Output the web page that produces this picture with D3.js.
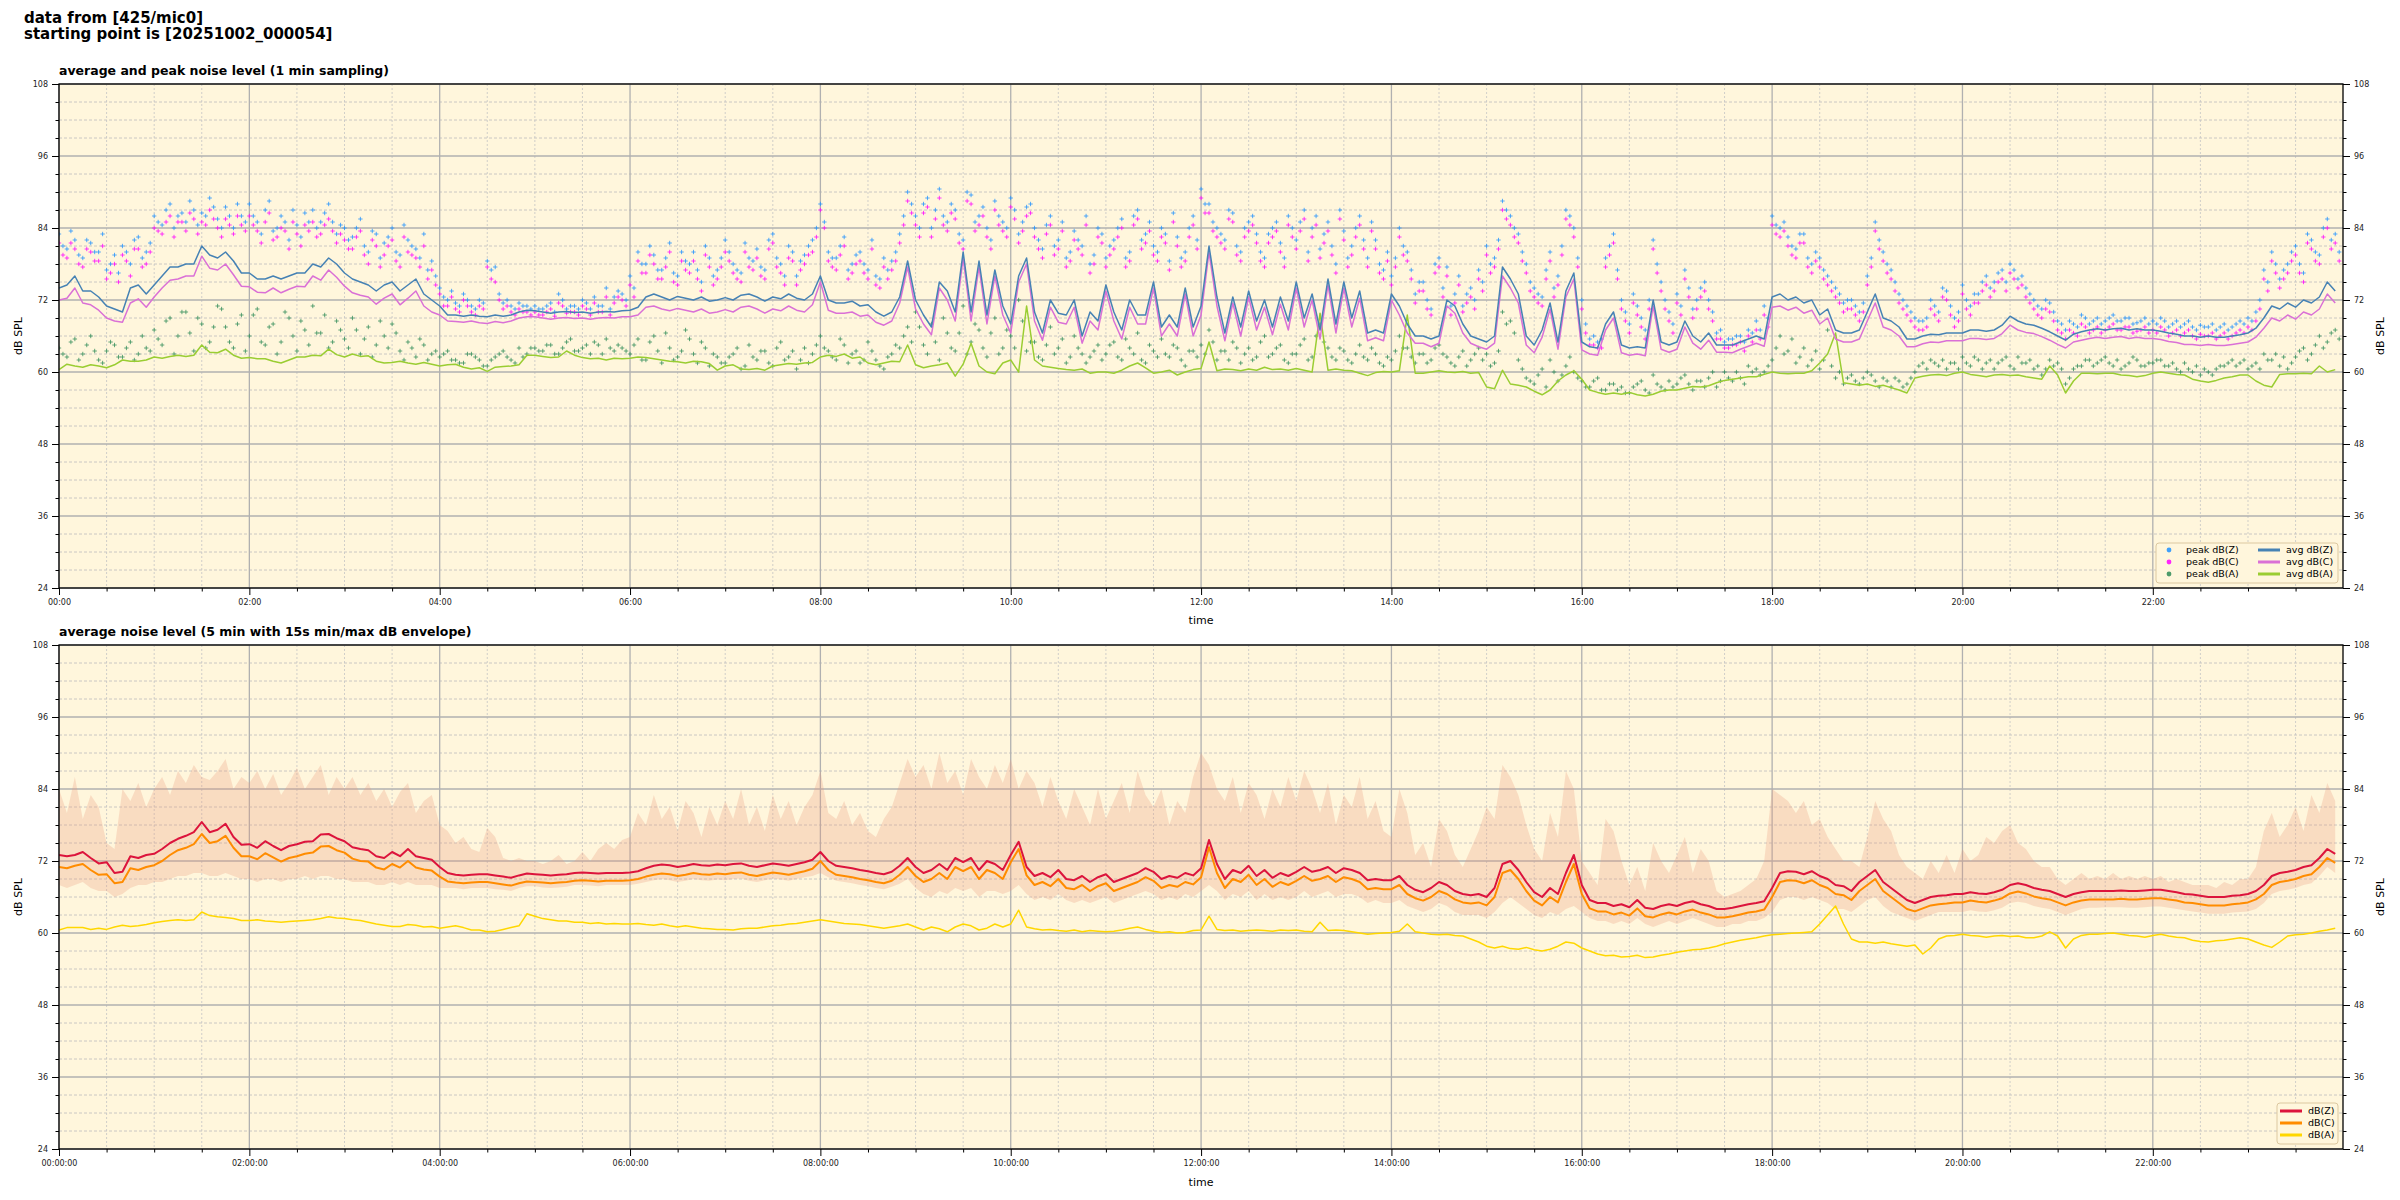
<!DOCTYPE html>
<html><head><meta charset="utf-8">
<script src="https://cdn.jsdelivr.net/npm/d3@7"></script>
<style>body{margin:0;background:#fff}svg{display:block}text{font-family:"DejaVu Sans",sans-serif}</style>
</head><body><svg id="c" width="2400" height="1200"></svg>
<script>
// ---- DATA (5-minute samples, 00:00 .. 23:55) ----
const sampleMinutes = d3.range(0, 1440, 5);
const majorTicksDb = [24, 36, 48, 60, 72, 84, 96, 108];

const avgZ = [
74,74.5,76,73.5,73.5,72.5,71,70.5,70,74,74.5,73,
74.5,76,77.5,77.5,78,78,81,79.5,79,80,78.5,76.5,
76.5,75.5,75.5,76,75.5,76,76.5,76.5,78,77.5,79,78,
76.5,75.5,75,74.5,73.5,74.5,75,73.5,74.5,75.5,73,72,
71,69.5,69.5,69.3,69.5,69.3,69.2,69.5,69.3,69.5,70,70.3,
70.2,70,69.8,70,70.1,69.9,70,69.8,70,70.1,70,70.2,
70.3,70.8,72.5,73,72.5,72,72.6,72.3,72,72.5,71.8,72,
72.4,72,72.8,73,72.5,71.8,72.5,72.2,73,72.3,72,73,
76,72,71.5,71.5,71.8,71,71.2,70,69.3,70,72.5,78.5,
72,69.5,67.5,75,73.5,70,80,70,78.5,69.5,77,71,
68,76,79,70,66.5,72,69.8,69.5,72,66,70,68.5,
74.5,70,67,72,69.5,69.5,75,67.5,69.5,67.5,74,67.5,
71,81,72.5,66.5,72.5,67.5,73.5,68.5,72,67.5,72.5,68.5,
75,69,73,67,75.5,68,75,69,73.5,66.5,67,66.5,
73,71,68,66,66,65.5,66,72,71,68,66,65.5,
65,66,77.5,75.5,73,66,64.5,67,71.5,65,73.5,76.5,
65,64.2,64,68,70,64.5,64,64.2,64,72,65,64.5,
65,68.5,66,65,66.5,64.5,64.5,64.5,65,65.5,66,65.5,
72.5,73,72,72.5,71.5,72,69.5,70.5,67,66.5,66.5,67,
70,73,69,68.5,67.5,65.5,65.5,66,66.3,66.2,66.5,66.5,
66.5,67,67,66.8,67,67.8,69.3,68.5,68,67.8,67.3,66.7,
66,65.3,66.3,66.7,67,67.2,67,67.2,67.3,67,67.2,67,
67,66.8,66.5,66.3,66,66,65.8,66,65.8,65.8,66,66.2,
66.5,67.3,69,71,70.5,71.5,70.8,72,71.5,72.5,75,73.5];

const avgC = [
72,72.3,74,71.5,71.2,70.3,69,68.5,68.3,71.5,72.2,70.8,
72.5,74,75.3,75.5,76,76,79.3,77.3,77,78,76.2,74.3,
74.2,73.3,73.2,74,73.2,73.8,74.3,74.2,76,75.3,77,75.8,
74.3,73.2,72.8,72.5,71.3,72.3,73,71.2,72.3,73.5,71,70,
69.5,68.5,68.4,68.3,68.5,68.2,68.1,68.4,68.2,68.5,69,69.2,
69.2,69,68.8,69,69.1,68.9,69,68.8,69,69.1,69,69.2,
69.2,69.5,70.8,71,70.5,70.2,70.6,70.3,70,70.5,69.8,70,
70.4,70,70.8,71,70.5,69.8,70.5,70.2,71,70.3,70,71.2,
75,70.3,69.8,69.8,70,69.3,69.5,68.3,67.8,68.5,71.5,77.5,
70.5,68,66.2,74,72,68.5,79,68.5,77.5,68,76,69.5,
66.5,75,78,68.5,65.3,70.8,68.3,68,70.8,64.8,68.5,67,
73.5,68.5,65.5,70.8,68,68,74,66,68,66,73,66,
69.5,80,71,65.2,71.5,66,72.5,67,70.8,66.2,71.3,67,
74,67.5,72,65.5,74.5,66.5,74,67.5,72.3,65.2,65.7,65.2,
72,69.5,66.5,64.8,64.8,64.2,64.8,71,69.8,66.5,64.8,64.2,
63.8,64.8,76,74,71.5,64.5,63.2,65.8,70.5,63.8,72.5,75.5,
63.7,63,62.8,67,69,63.2,62.8,63,62.7,71,63.8,63.3,
63.8,67.5,64.8,63.8,65.3,63.3,63.3,63.2,63.8,64.3,64.8,64.3,
70.8,71,70.3,70.8,69.8,70.3,68,69,65.5,65,65,65.5,
68.5,71.5,67.5,67,66,64.2,64.2,64.7,65,64.9,65.2,65.2,
65.2,65.6,65.6,65.4,65.6,66.4,67.8,67,66.6,66.4,65.9,65.3,
64.6,64,65,65.3,65.6,65.8,65.6,65.8,65.9,65.6,65.8,65.6,
65.6,65.4,65.1,64.9,64.6,64.6,64.4,64.6,64.4,64.4,64.6,64.8,
65,65.8,67.3,69,68.5,69.5,68.8,70,69.5,70.5,73,71.5];

const avgA = [
60.4,61.3,61,60.8,61.2,61,60.7,61.2,62,61.8,61.8,62,
62.5,62.3,62.6,62.8,62.6,62.8,64.5,63.3,63.2,63.8,62.8,62.3,
62.4,62.2,62.2,61.8,61.5,62,62.5,62.5,62.8,62.7,63.8,62.9,
62.5,63,62.6,62.7,61.8,61.5,61.6,61.8,61.5,61.3,61.6,61.3,
61,61.2,61.3,60.8,60.5,60.7,60.1,60.8,60.9,61,61.2,62.8,
62.8,62.6,62.4,62.5,63.5,62.8,62.4,62.2,62.3,62,62.3,62.2,
62.3,62.5,62.4,62.2,62,61.8,61.7,61.5,61.8,61.7,61.4,60.3,
61,61.2,60.5,60.4,60.6,60.3,61,61.2,61.4,61.3,61.5,61.6,
62.5,62.8,62.6,63,62.3,62.5,61.5,61.2,61.5,61.8,61.7,64.5,
61.2,60.7,61,61.2,61.5,59.3,61.3,64.8,61,60,59.7,61.5,
62,60,71,62,61,60.8,60.6,60.4,60.3,60.5,59.8,60,
60,59.8,60.3,61,61.5,60.7,59.8,60,60.3,59.5,60,60.4,
60.6,65,60.2,60.5,60.4,60.2,60.5,60.3,60.8,60.4,60.5,60.3,
60.6,60.3,60,69.8,60.3,60.5,60.3,60.2,59.8,59.4,59.9,60.1,
60,60.2,69.5,59.8,59.8,60,60.2,60,59.9,60.1,59.8,59.9,
57.5,57.2,60.3,58,57.8,57.5,56.8,56.2,57,58.5,59.5,60.2,
58.8,57,56.6,56.3,56.5,56.3,56.6,56.2,56,56.3,56.8,57,
57,57.3,57.6,57.5,57.7,58.2,58.6,58.8,59,59.2,59.2,59.6,
60,59.8,59.7,59.8,59.8,60.2,61.5,63,66.5,58.2,58,57.8,
58,57.6,57.8,57.4,57,56.5,59,59.3,59.5,59.6,59.4,59.8,
60,59.6,59.4,59.2,59.5,59.6,59.4,59.5,59.2,59,58.8,61,
59.5,56.5,58.5,59.8,59.8,59.7,59.8,59.8,59.5,59.4,59.2,59.4,
59.8,60,59.8,59.6,59.5,58.8,58.5,58.3,58.6,59,59.2,59.5,
59.5,58.5,57.8,57.5,59.6,59.7,59.7,59.8,59.7,61,60,60.4];

// peak readings at hh:m0 / hh:m5
const peakZ = [
83,80.5,82,79,81.5,80,77,79.5,81,78,82.5,80,
86,84.5,88,86,85,87,86.5,89,85.5,87.5,84,86,
88,85,87,83.5,86,82,84.5,86.5,87,85,88,83,
84,82.5,85.5,80,83,81.5,84,79.5,82,80.5,83,78.5,
74,72,71.5,73,71,72,78.5,77.5,71.5,71,71.5,71,
71,70.5,71.5,73,70.5,71,72,70.5,71,74,72.5,73,
76,80,78,79.5,77,81.5,76,78.5,80,75,79,77,
82,78,76.5,79,80.5,77,83,78,81,76,79.5,82,
88,80,79,82.5,78,80,77,76,79,78.5,83,90,
86,88,84,90.5,85,87,82,89.5,86,84,88.5,85,
89,83,87.5,84,80.5,86,82,79,83.5,81,78,84,
79,82,85.5,80,87,83,81,84,78.5,82.5,80,86,
90.5,88,84,82,86.5,80,85,83,79,84,81.5,86,
82,87,84,80.5,85,78,83.5,81,86,79,82,77,
76,84,80,73,75,70.5,79,77.5,73,71,74,77,
81,79,88.5,86,83,78,74,72.5,80,76,87,84,
72,65.5,65,79,83,72,68,71,67,82,75,70,
73,77,70.5,74,72,66.5,65,65.5,66,67,68.5,71,
86,84,82.5,80.5,83,78,79,76,74,71.5,72,70,
76,85,80,77,73,71,69,68.5,72,70,73.5,69,
74.5,71,73,76,75,77,78,75.5,74,72,70.5,71.5,
68.5,67,68,69.5,68,69,68.5,69.5,68.5,69,68.2,69,
68.5,69,67.5,68.5,68,67.5,67.8,67.5,67,68,67.5,68.5,
69,70,77,80,75.5,78,81,76.5,82,79.5,85.5,83];

const peakC = [
81.5,79,80.5,77.5,80,78.5,75.5,78,79.5,76,80.5,78,
84,83,86,85,83.5,85.5,85,87,84,85.5,83,84.5,
86,83.5,85,82,84,80.5,83,84.5,85,83,85.5,81.5,
82,80.5,83.5,78,81,79.5,82,77.5,80,79,81,77,
73,71,70.5,72,70,71,77.5,75,70.5,70,70.5,70,
70,69.5,70.5,71.5,69.8,70,71,69.5,70,72.5,71.5,72,
74.5,78.5,76.5,78,75.5,80,74.5,77,78.5,73.5,77.5,75.5,
80,76.5,75,77.5,79,75.5,81.5,76.5,79,74.5,78,80,
87,78.5,77,81,76.5,78.5,75.5,74.5,77.5,77,81.5,88.5,
84.5,86.5,82.5,89,83.5,85.5,80.5,88,84.5,82.5,87,83.5,
87.5,81.5,86,82.5,79,84.5,80.5,77.5,82,79.5,76.5,82.5,
77.5,80.5,84,78.5,85.5,81.5,79.5,82.5,77,81,78.5,84.5,
89,86.5,82.5,80.5,85,78.5,83.5,81.5,77.5,82.5,80,84.5,
80.5,85.5,82.5,79,83.5,76.5,82,79.5,84.5,77.5,80.5,75.5,
74.5,82.5,78.5,71.5,73.5,69.5,77.5,76,71.5,70,72.5,75.5,
79.5,77.5,87,84.5,81.5,76.5,72.5,71,78.5,74.5,85.5,82.5,
70.5,64.5,64,77.5,81.5,70.5,66.5,69.5,65.5,80.5,73.5,68.5,
71.5,75.5,69,72.5,70.5,65.5,64,64.5,65,66,67,69.5,
84.5,82.5,81,79,81.5,76.5,77.5,74.5,72.5,70,70.5,68.5,
74.5,83.5,78.5,75.5,71.5,69.5,67.5,67,70.5,68.5,72,67.5,
73,69.5,71.5,74.5,73.5,75.5,76.5,74,72.5,70.5,69,70,
67,65.5,66.5,68,66.5,67.5,67,68,67,67.5,66.8,67.5,
67,67.5,66,67,66.5,66,66.3,66,65.5,66.5,66,67,
67.5,68.5,75.5,78.5,74,76.5,79.5,75,80.5,78,84,81.5];

const peakA = [
64,62.5,65.5,63,66,62,63.5,64.5,62.5,65,63,64,
67,64.5,69,66,70,63.5,68,65,71,67.5,64,69.5,
66,70.5,64.5,68,65,69,63.5,67,71,66.5,64,68.5,
65.5,69,63,67.5,64.5,66,68,63.5,65,62.5,64.5,63,
62.5,63.5,62,61.5,63,62,61,62.5,63.5,62,64,63,
64,63.5,64.5,63,65,63.5,64,63,64.5,65.5,63.5,64,
63,65.5,62,66,61.5,64,62.5,67,63,65,61,62.5,
61.5,63,60.5,64.5,62,63.5,61,65,62.5,60.5,64,63,
66,63.5,62,64.5,63,61.5,65,62,60.5,63,64,67.5,
70,64.5,68,62,66.5,63.5,71,65,67,62.5,69,64,
66,72,63.5,65,62,67.5,64,61.5,66,63,62.5,64.5,
63,65,62,64,66.5,61.5,63.5,65.5,62.5,64,61,63.5,
64.5,67,62,63.5,65,61.5,64,62.5,66,63,64.5,61.5,
63,65.5,62.5,68,64,62,63.5,61.5,64.5,62,63,61,
62,66,64,61.5,63,62,64.5,62.5,61,63.5,62,64,
63,61.5,70,68.5,62,59,58,60.5,62,58.5,61,60,
58.5,57.5,59,57,58,57.5,56.5,58,57,59.5,57.5,58.5,
58,59.5,57,58.5,59,57.5,60,58.5,59,61,60.5,60,
62,66,63.5,61.5,64,62,60.5,67,59,58,59.5,58,
60,58.5,59,57.5,58.5,58,60,61.5,62,61,60.5,61.5,
62.5,61,62,61.5,60.5,62,61,62.5,61.5,60.5,59.5,62,
61.5,58,60.5,61,62,61.5,62.5,61,60.5,61.5,62,61,
61.5,62,61,60.5,61.5,60,59.5,60,60.5,61,62,61.5,
60.5,61.5,63,62,61,60.5,62.5,64,63,66,65,67];

// peak readings at hh:m2:30 / hh:m7:30
const peakZ2 = [
81,83.5,79.5,82,80,83,78,76.5,80,82,79,81.5,
85,87,84,86.5,88.5,84.5,86,87.5,84,86,88,85,
86,83,88.5,84,85,87,82.5,85,84,86.5,85,84.5,
82,84,81,83.5,79,82.5,80,84.5,81,79,77,76,
72.5,73.5,71,72,70.5,71.5,77,73,72,70.5,71,70.5,
70.5,71,70,72,71,70.5,71.5,72.5,71,70.5,73.5,72,
74,78,81,77,79,76.5,80,78,77,81,76,79,
80,77,81.5,78.5,77.5,82,79,76,80,78.5,81,84,
85,79,81,77,79.5,78,82,75.5,77,80,86,88,
84,89,87,86,88,83,90,85,87.5,82,86,84,
87,85,88,82,84.5,81,85,80,82,86,79.5,83,
81,84,79,86,82,85,80,83,86.5,79,84,82,
88,85,83,87,81,84,86,80,83,85,79,84,
85,80,86,83,81,87,79,84,82,85,78,80,
79,81,77,75,72,78,74,71,76,73,72,75,
78,82,87,84,80,75,73,77,74,81,86,79,
68,66,65.5,81,77,70,73,69,72,78,72,68,
71,74,72,75,70,67,65.5,66,65,66.5,67,69,
84.5,85,81,83,79,80,77,75,73,72,71,71.5,
79,82,78,75,72,70,68.5,69,71,74,71,70,
72,73,75,74,76.5,75,77,76,73,71,72,70,
68,68.5,67.5,69,68.5,68,69,68.5,69,68,68.5,68,
68,68.5,68,67.5,68.5,67,67.5,68,67.5,67,68,68,
68.5,72,75,78,77,80,78,83,80,84,82,80];

const peakC2 = [
79.5,81.5,78,80.5,78.5,81,76.5,75,78.5,80.5,77.5,80,
83.5,85,82.5,85,86.5,83,84.5,85.5,82.5,84.5,86,83.5,
84.5,81.5,86.5,82.5,83.5,85,81,83.5,82.5,84.5,83.5,83,
80.5,82.5,79.5,82,77.5,81,78.5,82.5,79.5,77.5,75.5,74.5,
71,72.5,70,71,69.5,70.5,75.5,72,71,69.5,70,69.5,
69.5,70,69.3,71,70,69.5,70.5,71.5,70,69.5,72.5,71,
72.5,76.5,79.5,75.5,77.5,75,78.5,76.5,75.5,79.5,74.5,77.5,
78.5,75.5,80,77,76,80.5,77.5,74.5,78.5,77,79.5,82.5,
84,77.5,79.5,75.5,78,76.5,80.5,74,75.5,78.5,84.5,86.5,
82.5,87.5,85.5,84.5,86.5,81.5,88.5,83.5,86,80.5,84.5,82.5,
85.5,83.5,86.5,80.5,83,79.5,83.5,78.5,80.5,84.5,78,81.5,
79.5,82.5,77.5,84.5,80.5,83.5,78.5,81.5,85,77.5,82.5,80.5,
86.5,83.5,81.5,85.5,79.5,82.5,84.5,78.5,81.5,83.5,77.5,82.5,
83.5,78.5,84.5,81.5,79.5,85.5,77.5,82.5,80.5,83.5,76.5,78.5,
77.5,79.5,75.5,73.5,70.5,76.5,72.5,69.5,74.5,71.5,70.5,73.5,
76.5,80.5,85.5,82.5,78.5,73.5,71.5,75.5,72.5,79.5,84.5,77.5,
66.5,64.5,64,79.5,75.5,68.5,71.5,67.5,70.5,76.5,70.5,66.5,
69.5,72.5,70.5,73.5,68.5,65.5,64,64.5,63.5,65,65.5,67.5,
83,83.5,79.5,81.5,77.5,78.5,75.5,73.5,71.5,70.5,69.5,70,
77.5,80.5,76.5,73.5,70.5,68.5,67,67.5,69.5,72.5,69.5,68.5,
70.5,71.5,73.5,72.5,75,73.5,75.5,74.5,71.5,69.5,70.5,68.5,
66.5,67,66,67.5,67,66.5,67.5,67,67.5,66.5,67,66.5,
66.5,67,66.5,66,67,65.5,66,66.5,66,65.5,66.5,66.5,
67,70.5,73.5,76.5,75.5,78.5,76.5,81.5,78.5,82.5,80.5,78.5];

const peakA2 = [
63,65,62,64.5,63.5,61.5,65,62.5,64,62,66,63.5,
65.5,68.5,63,70,66.5,69,64,67.5,70.5,65,68,63.5,
69.5,65,67.5,63,70,66,68.5,64.5,66.5,69.5,65,67,
64,67,65.5,62.5,68.5,64,66.5,62,64,65.5,62,63.5,
63,62,61.5,63,62.5,61,62,63,62.5,61.5,62.5,64,
63.5,64.5,63,64,65.5,63.5,64.5,65,63,64,64.5,63.5,
64.5,62,65,63.5,66.5,62,63.5,65.5,61.5,64,63,61.5,
62.5,64,61,62.5,63.5,61.5,64,62,63.5,62,61.5,64.5,
64,62.5,65.5,61.5,63.5,62,63.5,61,62.5,64.5,66,65,
67.5,63,65,69,64,66.5,63,68,64,66.5,63,67,
64,68.5,65,62.5,64.5,63,65.5,62.5,64,61.5,63.5,62,
64.5,62.5,65.5,63,62,64.5,62.5,63,64.5,62,63.5,62.5,
63,65,63.5,62,64,63,62,65,62.5,64,62,63,
64.5,62,66,65,62.5,64,62,63,62.5,64,61.5,62.5,
63.5,64,62.5,63,61.5,64,63,61.5,62.5,61,63,62,
61,63.5,68,66.5,60.5,58.5,59.5,57.5,60,59.5,62.5,59,
57.5,58.5,57,58,57,56.5,57.5,58.5,56.5,58,57,57.5,
59,58,58.5,57.5,60,58.5,59,60,58,60,59.5,61,
64,63,65.5,62.5,61,63.5,62,61,60,59,58.5,59,
59.5,57.5,58.5,59,57.5,59,61,60.5,61.5,62,61.5,60.5,
61.5,62.5,60.5,62,61.5,62.5,60.5,61.5,62,61,60.5,61,
60.5,59,61,62,61,62,61.5,62,61,62.5,61,61.5,
62,61,61.5,60,60.5,61,60.5,59.5,61,61.5,61,62,
61,60.5,62,63,62.5,61.5,63.5,62,64.5,64,66.5,65.5];

const dbZ = [
73,72.8,73,73.5,72.5,71.6,71.8,70,70.2,72.8,72.5,73,
73.2,74,75,75.7,76.2,76.8,78.5,76.8,77.2,78.2,76,74.7,
74.8,74.2,75.3,74.5,73.8,74.5,74.8,75.2,75.3,76.4,76.5,75.8,
75.3,74.3,74,73.8,72.8,72.5,73.5,72.8,74,72.8,72.5,72.2,
71,70,69.7,69.6,69.7,69.8,69.8,69.6,69.4,69.2,69.6,69.9,
69.8,69.7,69.6,69.7,69.8,70,70.1,70,69.9,70,70,70,
70.1,70.3,70.8,71.2,71.4,71.3,71,71.2,71.5,71.3,71.2,71.4,
71.3,71.5,71.6,71.2,71,71.3,71.6,71.4,71.2,71.5,71.8,72.2,
73.5,72,71.2,71,70.8,70.5,70.3,70,69.8,70.2,71.2,72.5,
71,70,70.5,71.5,70.5,72.5,71.8,72.5,70.5,72,71.5,70.5,
73,75.2,71,69.5,70,69.3,70.5,69,68.8,69.5,68.5,69.3,
69.8,68.5,69,69.5,70,70.8,70.2,69,69.5,69.2,70,69.6,
70.8,75.5,71.5,69,70.5,70,71.2,69.5,70.5,69.2,70,69.5,
70.2,71,70.2,70.5,71,70,70.8,70.5,70,68.8,69,68.8,
68.8,69.5,68,67.2,66.8,67.5,68.5,68,67,66.5,66.3,66.5,
66,67.5,71.5,72,70.5,68.5,66.8,66,67.5,66.5,70,73,
68,65.5,65,65,64.5,64.8,64.3,65.5,64.2,64,64.5,64.8,
64.5,65,65.3,64.8,64.5,64,64,64.2,64.5,64.8,65,65.3,
67.5,70,70.3,70.2,69.8,70.3,69.5,69,68,67.8,67,68.5,
69.5,70.5,68.5,67.5,66.5,65.5,65,65.5,66,66.2,66.3,66.5,
66.5,66.8,66.6,66.5,66.8,67.2,68,68.3,68,67.5,67.2,67,
66.5,66,66.5,66.8,67,67,67,67,67.1,67,67,67.1,
67.2,67.2,67,66.8,66.5,66.4,66.2,66,66,66,66.2,66.3,
66.5,67,68,69.5,70,70.2,70.5,71,71.3,72.5,74,73.2];

const dbC = [
71,70.8,71.2,71.5,70.5,69.7,69.8,68.3,68.5,70.8,70.5,71,
71.3,72,73,73.8,74.2,74.8,76.5,75,75.3,76.2,74.2,72.8,
72.8,72.3,73.3,72.6,71.9,72.5,72.8,73.2,73.4,74.4,74.5,73.8,
73.4,72.4,72,71.9,70.9,70.6,71.5,70.9,72,70.9,70.6,70.4,
69.4,68.6,68.4,68.3,68.4,68.5,68.5,68.3,68.1,67.9,68.3,68.6,
68.5,68.4,68.3,68.4,68.5,68.7,68.8,68.7,68.6,68.7,68.7,68.7,
68.8,69,69.4,69.7,69.9,69.8,69.5,69.7,70,69.8,69.7,69.9,
69.8,70,70.1,69.7,69.5,69.8,70.1,69.9,69.7,70,70.3,70.7,
72,70.5,69.7,69.5,69.3,69,68.8,68.5,68.3,68.7,69.7,71,
69.5,68.5,69,70,69,71,70.3,71,69,70.5,70,69,
71.8,74,69.6,68,68.5,67.8,69,67.5,67.3,68,67,67.8,
68.3,67,67.5,68,68.5,69.3,68.7,67.5,68,67.7,68.5,68.1,
69.3,74.3,70,67.5,69,68.5,69.7,68,69,67.7,68.5,68,
68.7,69.5,68.7,69,69.5,68.5,69.3,69,68.5,67.3,67.5,67.3,
67.3,68,66.5,65.8,65.4,66,67,66.5,65.6,65.1,64.9,65.1,
64.6,66,70,70.5,69,67,65.4,64.6,66,65.1,68.5,71.5,
66.5,64.1,63.6,63.6,63.1,63.4,62.9,64.1,62.8,62.6,63.1,63.4,
63.1,63.6,63.9,63.4,63.1,62.6,62.6,62.8,63.1,63.4,63.6,63.9,
66,68.5,68.8,68.7,68.3,68.8,68,67.5,66.5,66.3,65.5,67,
68,69,67,66,65,64,63.6,64.1,64.6,64.8,64.9,65.1,
65.1,65.4,65.2,65.1,65.4,65.8,66.6,66.9,66.6,66.1,65.8,65.6,
65.1,64.6,65.1,65.4,65.6,65.6,65.6,65.6,65.7,65.6,65.6,65.7,
65.8,65.8,65.6,65.4,65.1,65,64.8,64.6,64.6,64.6,64.8,64.9,
65.1,65.6,66.5,68,68.5,68.7,69,69.5,69.8,71,72.5,71.7];

const dbA = [
60.5,60.9,60.9,60.9,60.6,60.8,60.6,61,61.3,61.1,61.2,61.4,
61.7,61.9,62.1,62.2,62.1,62.2,63.5,62.9,62.7,62.6,62.4,62.1,
62.1,62.2,62,61.9,61.8,61.9,62,62.1,62.2,62.4,62.7,62.5,
62.4,62.2,62.1,61.8,61.5,61.3,61.1,61.1,61.4,61.3,61,61.1,
60.8,61,61.2,60.9,60.5,60.5,60.2,60.3,60.6,60.9,61.2,63.2,
62.8,62.4,62.2,62,62,61.8,61.8,61.6,61.7,61.5,61.6,61.5,
61.5,61.6,61.4,61.3,61.5,61.2,61,61.2,61,60.8,60.7,60.6,
60.6,60.5,60.7,60.8,60.8,61,61.2,61.3,61.5,61.6,61.8,62,
62.2,62,61.8,61.6,61.5,61.4,61.2,61,60.8,61,61.2,61.5,
61,60.5,61,60.7,60.2,61,61.5,61.2,60.5,60.8,61.5,61,
61.5,63.8,61,60.7,60.5,60.6,60.4,60.3,60.5,60.2,60.4,60.3,
60.2,60.3,60.5,60.8,61,60.6,60.3,60.1,60.2,60,60.1,60.4,
60.5,62.8,60.6,60.4,60.5,60.3,60.4,60.5,60.4,60.3,60.5,60.4,
60.5,60.3,60.2,61.8,60.4,60.5,60.4,60.2,60,59.8,59.9,60,
60.1,60.3,61.5,60.2,60,59.8,59.7,59.8,59.6,59.5,59,58.5,
57.8,57.5,57.8,57.4,57.3,57.6,57.2,57,57.3,57.8,58.5,58.3,
57.5,57,56.5,56.2,56.3,56,56.1,56.3,55.9,56,56.3,56.5,
56.8,57,57.2,57.3,57.5,57.8,58.2,58.5,58.8,59,59.2,59.5,
59.7,59.8,59.9,60,60.1,60.2,61.5,63,64.5,61.5,59,58.5,
58.5,58.3,58.5,58.2,58,57.8,58,56.5,57.5,59,59.5,59.6,
59.8,59.6,59.5,59.3,59.5,59.6,59.4,59.5,59.2,59.2,59.5,60.2,
59.5,57.5,59,59.6,59.8,59.8,59.9,60,59.8,59.6,59.5,59.3,
59.6,59.8,59.5,59.3,59.2,58.8,58.6,58.5,58.7,58.8,59,59.2,
59,58.5,58,57.6,58.5,59.5,59.7,59.8,60,60.3,60.5,60.8];

const envMax = [
84,80,86,79,83,81,75,74,84,82,85,81,
84,86,83,87,85,88,86,85.5,87,89,84,86,
85,87,84,86.5,83,85,87.5,84,86,88,83,86,
84,86,83,85,82,84,81,83.5,85,80,82,83,
78,77,75,76,74,73.5,77.5,76,72.5,72,72.5,72,
72,71.5,72,73,71.5,72,73.5,72,74,75,74,75.5,
76,80,78,83,79,81,77,82,80,76,81,78,
82,79,84,78,81,77,83,79,82,78,81,83,
87,80,79,82,78,80,77,76,79,81,85,89,
86,88,84,90,85,87,83,89,86,84,88,85,
89,84,87,85,81,86,82,79,84,81,78,84,
79,82,85,80,87,83,81,84,78,82,80,86,
90,88,84,82,86,80,85,83,79,84,81,86,
82,87,84,80,85,78,83,81,86,79,82,77,
76,84,80,73,75,71,79,77,73,71,74,77,
81,79,88,86,83,78,74,72,80,76,87,84,
72,70,68,79,77,72,68,71,67,75,72,70,
73,76,70,74,72,67,66,66.5,67,68,69,72,
84,83,82,80,82,78,79,76,74,72,72,71,
76,82,79,77,73,71,70,69,72,70,73,70,
74,72,73,76,75,77,78,75,74,72,71,71,
69,68,69,70,69,69.5,69,70,69,69.5,69,69.5,
69,69.5,68.5,69,68.5,68,68,68,67.5,68.5,68,69,
69,71,77,80,76,78,81,77,83,80,85,82];

const envMin = [
68,67.5,68,68.5,67.5,67,67,66,66.5,67.5,68,68,
68.5,68.5,69,69.5,69.5,70,70,69.5,69.5,70,69.5,69,
69,68.5,69,69,68.5,69,69,69.5,69,69.5,69.5,69,
69,68.5,68.5,68.5,68,68,68.5,68,68.5,68,68,68,
67.5,67.5,67.5,67.3,67.5,67.5,67.5,67.3,67.2,67,67.5,67.8,
67.8,67.6,67.5,67.6,67.7,68,68,67.9,67.8,68,68,68,
68,68.2,68.5,68.8,69,68.8,68.5,68.7,69,68.8,68.7,68.9,
68.8,69,69.1,68.7,68.5,68.8,69.1,68.9,68.7,69,69.3,69.5,
70,69.3,68.7,68.5,68.3,68,67.8,67.5,67.3,67.7,68.2,69,
67.5,66.5,66,67,66.5,67.5,67,67.5,66,67,67,66.5,
67,68,66.5,65.5,66,65.5,66.5,65.5,65,65.5,65,65.5,
66,65,65.5,66,66.5,67,66.5,65.5,66,65.5,66.5,66,
67,68,67,65.5,66.5,66,67,65.5,66.5,65.5,66,65.5,
66,67,66,66.5,67,66,66.5,66.5,66,65,65.5,65,
65,65.5,64.5,64,63.5,64,65,64.5,63.5,63,63,63,
62.5,63.5,65,66,65,64,63,62.5,63.5,63,64,64.5,
63.5,62.5,62,62,61.5,62,61.5,62.5,61.5,61,61.5,62,
61.5,62,62.5,62,61.5,61,61,61.5,61.5,62,62,62.5,
63.5,65.5,66,66,65.5,66,65.5,65,64,64,63.5,64.5,
65.5,66,64.5,63.5,63,62.5,62,62.5,63,63.5,63.5,63.5,
63.5,63.8,63.6,63.5,63.8,64.2,65,65.2,65,64.5,64.2,64,
63.5,63,63.5,64,64.2,64.2,64.3,64.3,64.3,64.2,64.2,64.3,
64.4,64.4,64.2,64,63.8,63.6,63.4,63.2,63.2,63.2,63.4,63.5,
63.6,64,65,66.5,67,67.2,67.5,68,68.3,69.5,71,70];

// ---- RENDER ----
const svg = d3.select("#c");
const W = 2400, H = 1200;
const L = 59, R = 2343;
const t0 = new Date(2025, 9, 2, 0, 0, 0);
const tEnd = new Date(2025, 9, 2, 23, 59, 54);
const times = sampleMinutes.map(m => new Date(t0.getTime() + m * 60000));
const times2 = sampleMinutes.map(m => new Date(t0.getTime() + (m + 2.5) * 60000));
const x = d3.scaleTime().domain([t0, tEnd]).range([L, R]);
const majorT = d3.timeHour.every(2).range(t0, tEnd);
const minorT = d3.timeMinute.every(30).range(t0, tEnd).filter(d => d.getMinutes() !== 0 || d.getHours() % 2 !== 0);
const minorDb = d3.range(24, 109, 3).filter(v => v % 12 !== 0);
const BG = "#fff6dc";

svg.append("rect").attr("width", W).attr("height", H).attr("fill", "#fff");

svg.append("text").attr("x", 24).attr("y", 23).attr("font-size", 15).attr("font-weight", "bold").text("data from [425/mic0]");
svg.append("text").attr("x", 24).attr("y", 39).attr("font-size", 15).attr("font-weight", "bold").text("starting point is [20251002_000054]");

function panel(top, bot, title, fmt, xlabel) {
  const y = d3.scaleLinear().domain([24, 108]).range([bot, top]);
  const g = svg.append("g");
  const cid = "clip" + top;
  svg.append("clipPath").attr("id", cid).append("rect").attr("x", L).attr("y", top).attr("width", R - L).attr("height", bot - top);
  g.append("rect").attr("x", L).attr("y", top).attr("width", R - L).attr("height", bot - top).attr("fill", BG);
  const grid = g.append("g");
  grid.selectAll(".hmin").data(minorDb).join("line").attr("x1", L).attr("x2", R).attr("y1", d => y(d)).attr("y2", d => y(d))
    .attr("stroke", "#bdbdbd").attr("stroke-width", 0.8).attr("stroke-dasharray", "3,2");
  grid.selectAll(".vmin").data(minorT).join("line").attr("y1", top).attr("y2", bot).attr("x1", d => x(d)).attr("x2", d => x(d))
    .attr("stroke", "#c4c4c4").attr("stroke-width", 0.8).attr("stroke-dasharray", "2,2");
  grid.selectAll(".hmaj").data(majorTicksDb).join("line").attr("x1", L).attr("x2", R).attr("y1", d => y(d)).attr("y2", d => y(d))
    .attr("stroke", "#b0b0b0").attr("stroke-width", 1.6);
  grid.selectAll(".vmaj").data(majorT).join("line").attr("y1", top).attr("y2", bot).attr("x1", d => x(d)).attr("x2", d => x(d))
    .attr("stroke", "#b0b0b0").attr("stroke-width", 1.3);
  const data = g.append("g").attr("clip-path", `url(#${cid})`);
  const fs = 8;
  const ax = (a, tr) => {
    const s = svg.append("g").attr("transform", tr).call(a);
    s.select(".domain").remove();
    s.selectAll("text").attr("font-size", fs).attr("fill", "#222").attr("font-family", "DejaVu Sans");
    s.selectAll("line").attr("stroke", "#000").attr("stroke-width", 1);
    return s;
  };
  ax(d3.axisBottom(x).tickValues(majorT).tickSize(7).tickPadding(4).tickFormat(d3.timeFormat(fmt)), `translate(0,${bot})`);
  ax(d3.axisBottom(x).tickValues(minorT).tickSize(3.5).tickFormat(""), `translate(0,${bot})`);
  ax(d3.axisLeft(y).tickValues(majorTicksDb).tickSize(7).tickPadding(4).tickFormat(d3.format("d")), `translate(${L},0)`);
  ax(d3.axisLeft(y).tickValues(minorDb).tickSize(3.5).tickFormat(""), `translate(${L},0)`);
  ax(d3.axisRight(y).tickValues(majorTicksDb).tickSize(7).tickPadding(4).tickFormat(d3.format("d")), `translate(${R},0)`);
  ax(d3.axisRight(y).tickValues(minorDb).tickSize(3.5).tickFormat(""), `translate(${R},0)`);
  svg.append("text").attr("x", L).attr("y", top - 9).attr("font-size", 12.5).attr("font-weight", "bold").text(title);
  svg.append("text").attr("x", (L + R) / 2).attr("y", xlabel).attr("text-anchor", "middle").attr("font-size", 11).text("time");
  const cy = (top + bot) / 2;
  svg.append("text").attr("transform", `translate(22,${cy}) rotate(-90)`).attr("text-anchor", "middle").attr("font-size", 11).text("dB SPL");
  svg.append("text").attr("transform", `translate(2384,${cy}) rotate(-90)`).attr("text-anchor", "middle").attr("font-size", 11).text("dB SPL");
  return { y, data, g };
}

// ---------- top panel ----------
const P1 = panel(84, 588, "average and peak noise level (1 min sampling)", "%H:%M", 624);
const plus = "M-2.2,0H2.2M0,-2.2V2.2";
function dots(arr, tt, color) {
  P1.data.append("g").selectAll("path").data(arr).join("path")
    .attr("d", plus).attr("transform", (d, i) => `translate(${x(tt[i])},${P1.y(d)})`)
    .attr("stroke", color).attr("stroke-width", 1).attr("fill", "none").attr("opacity", 0.75);
}
dots(peakA, times, "#2e8b57");
dots(peakA2, times2, "#2e8b57");
dots(peakZ, times, "#1e90ff");
dots(peakZ2, times2, "#1e90ff");
dots(peakC, times, "#ff00ff");
dots(peakC2, times2, "#ff00ff");
function line(p, arr, color, w) {
  p.data.append("path").datum(arr)
    .attr("d", d3.line().x((d, i) => x(times[i])).y(d => p.y(d)))
    .attr("fill", "none").attr("stroke", color).attr("stroke-width", w).attr("stroke-linejoin", "round");
}
line(P1, avgA, "#9acd32", 1.5);
line(P1, avgC, "#da70d6", 1.5);
line(P1, avgZ, "#4682b4", 1.5);
svg.append("rect").attr("x", L).attr("y", 84).attr("width", R - L).attr("height", 504).attr("fill", "none").attr("stroke", "#000").attr("stroke-width", 1.3);

const lg1 = svg.append("g");
lg1.append("rect").attr("x", 2156).attr("y", 543).attr("width", 182).attr("height", 40).attr("rx", 3)
  .attr("fill", BG).attr("stroke", "#dcc8a0").attr("stroke-width", 1);
const leftItems = [["peak dB(Z)", "#1e90ff"], ["peak dB(C)", "#ff00ff"], ["peak dB(A)", "#2e8b57"]];
const rightItems = [["avg dB(Z)", "#4682b4"], ["avg dB(C)", "#da70d6"], ["avg dB(A)", "#9acd32"]];
leftItems.forEach((it, k) => {
  const yy = 550 + k * 12;
  lg1.append("circle").attr("cx", 2169).attr("cy", yy).attr("r", 2.4).attr("fill", it[1]).attr("opacity", 0.85);
  lg1.append("text").attr("x", 2186).attr("y", yy).attr("dy", "0.35em").attr("font-size", 9.5).text(it[0]);
});
rightItems.forEach((it, k) => {
  const yy = 550 + k * 12;
  lg1.append("line").attr("x1", 2258).attr("x2", 2280).attr("y1", yy).attr("y2", yy).attr("stroke", it[1]).attr("stroke-width", 3);
  lg1.append("text").attr("x", 2286).attr("y", yy).attr("dy", "0.35em").attr("font-size", 9.5).text(it[0]);
});

// ---------- bottom panel ----------
const P2 = panel(645, 1149, "average noise level (5 min with 15s min/max dB envelope)", "%H:%M:%S", 1186);
P2.data.append("path").datum(envMax)
  .attr("d", d3.area().x((d, i) => x(times[i])).y0((d, i) => P2.y(envMin[i])).y1(d => P2.y(d)))
  .attr("fill", "#e9967a").attr("opacity", 0.27);
line(P2, dbA, "#ffd700", 1.5);
line(P2, dbC, "#ff8c00", 2);
line(P2, dbZ, "#dc143c", 2);
svg.append("rect").attr("x", L).attr("y", 645).attr("width", R - L).attr("height", 504).attr("fill", "none").attr("stroke", "#000").attr("stroke-width", 1.3);

const lg2 = svg.append("g");
lg2.append("rect").attr("x", 2277).attr("y", 1103).attr("width", 61).attr("height", 41).attr("rx", 3)
  .attr("fill", BG).attr("stroke", "#dcc8a0").attr("stroke-width", 1);
[["dB(Z)", "#dc143c"], ["dB(C)", "#ff8c00"], ["dB(A)", "#ffd700"]].forEach((it, k) => {
  const yy = 1111 + k * 12;
  lg2.append("line").attr("x1", 2280).attr("x2", 2302).attr("y1", yy).attr("y2", yy).attr("stroke", it[1]).attr("stroke-width", 3);
  lg2.append("text").attr("x", 2308).attr("y", yy).attr("dy", "0.35em").attr("font-size", 9.5).text(it[0]);
});
</script></body></html>
